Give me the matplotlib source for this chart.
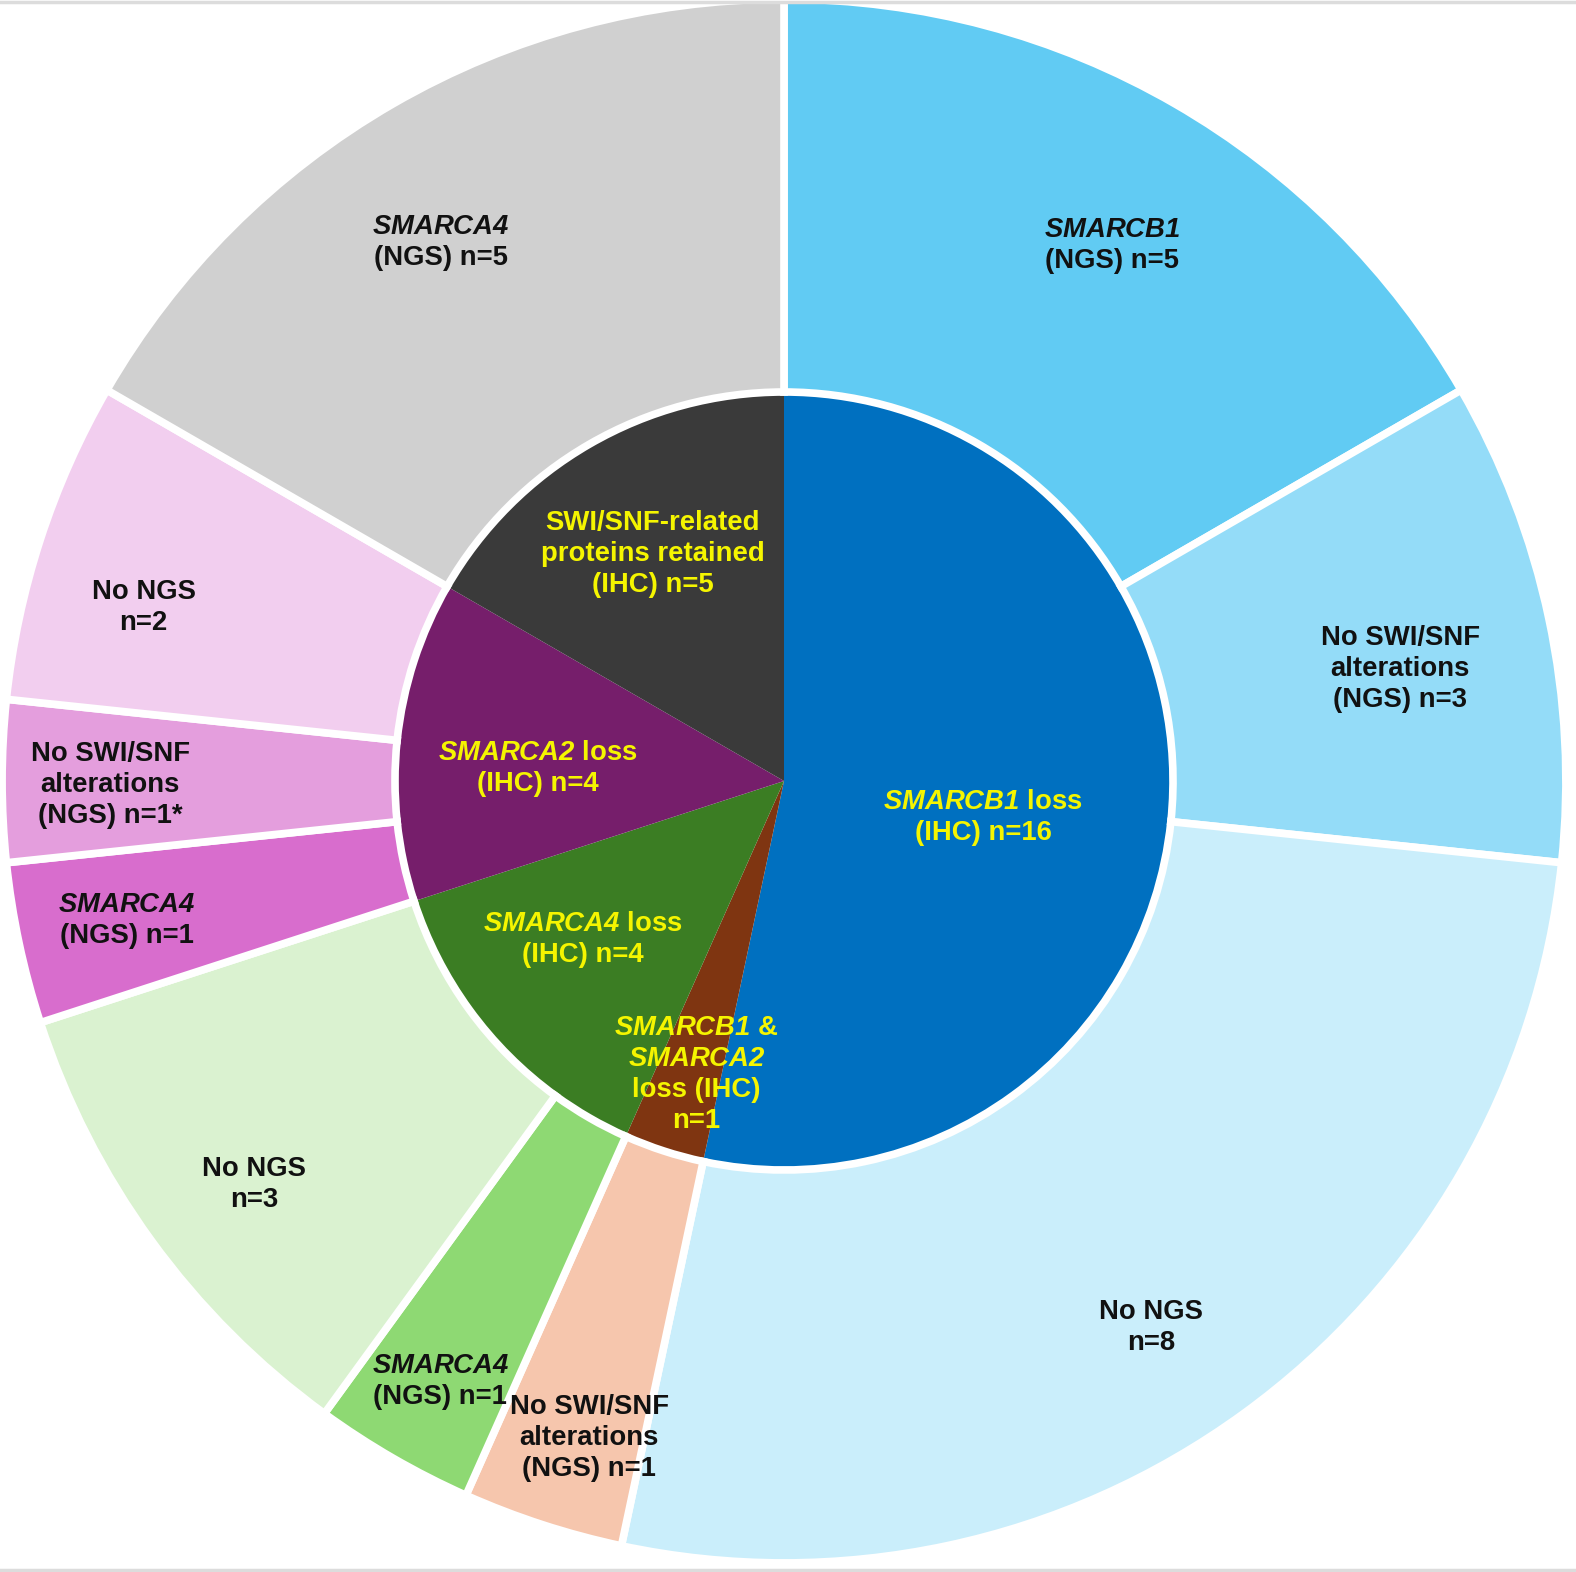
import numpy as np
import matplotlib
matplotlib.use("Agg")
import matplotlib.pyplot as plt
from matplotlib.lines import Line2D

plt.rcParams['font.family'] = ['Liberation Sans', 'DejaVu Sans']
plt.rcParams['font.weight'] = 'bold'
plt.rcParams['mathtext.fontset'] = 'custom'
# gene names are bold italic, digits too
plt.rcParams['mathtext.it'] = 'Liberation Sans:italic:bold'
plt.rcParams['mathtext.rm'] = 'Liberation Sans:italic:bold'
plt.rcParams['mathtext.bf'] = 'Liberation Sans:italic:bold'

# inner ring: IHC result
inner_labels = [r"$\mathit{SMARCB1}$ loss" + "\n(IHC) n=16",
                r"$\mathit{SMARCB1}$ &" + "\n" + r"$\mathit{SMARCA2}$" + "\nloss (IHC)\nn=1",
                r"$\mathit{SMARCA4}$ loss" + "\n(IHC) n=4",
                r"$\mathit{SMARCA2}$ loss" + "\n(IHC) n=4",
                "SWI/SNF-related\nproteins retained\n(IHC) n=5"]
inner_counts = [16, 1, 4, 4, 5]

# outer ring: NGS result
outer_labels = [r"$\mathit{SMARCB1}$" + "\n(NGS) n=5",
                "No SWI/SNF\nalterations\n(NGS) n=3",
                "No NGS\nn=8",
                "No SWI/SNF\nalterations\n(NGS) n=1",
                r"$\mathit{SMARCA4}$" + "\n(NGS) n=1",
                "No NGS\nn=3",
                r"$\mathit{SMARCA4}$" + "\n(NGS) n=1",
                "No SWI/SNF\nalterations\n(NGS) n=1*",
                "No NGS\nn=2",
                r"$\mathit{SMARCA4}$" + "\n(NGS) n=5"]
outer_counts = [5, 3, 8, 1, 1, 3, 1, 1, 2, 5]

inner_colors = ['#0070C0', '#7F3511', '#3B7D23', '#761E6B', '#3A3A3A']
outer_colors = ['#61CBF3', '#94DCF8', '#CAEEFB', '#F6C6AD', '#8ED973',
                '#DAF2D0', '#D86DCD', '#E49EDD', '#F2CEEF', '#D0D0D0']

# label placement: radius and small angle nudge from the slice middle
inner_label_r = [0.26, 0.393, 0.329, 0.317, 0.337]
inner_label_da = [4.3, -1.4, 3.7, -3.2, 0.0]
outer_label_r = [0.807, 0.805, 0.846, 0.881, 0.889, 0.856, 0.864, 0.866, 0.853, 0.821]
outer_label_da = [1.5, 1.7, 2.1, -1.5, -0.2, -1.3, 0.0, -0.3, -2.8, -2.5]

W, H = 1576, 1572
cx, cy, R = 784, 781, 778

fig = plt.figure(figsize=(W / 100, H / 100), dpi=100)
ax = fig.add_axes([0, 0, 1, 1])
ax.axis('off')

ax.pie(inner_counts, radius=0.5, colors=inner_colors, startangle=90,
       counterclock=False, wedgeprops=dict(linewidth=0))
ax.pie(outer_counts, radius=1.005, colors=outer_colors, startangle=90,
       counterclock=False,
       wedgeprops=dict(width=0.505, edgecolor='white', linewidth=5.5))
ax.set_xlim(-cx / R, (W - cx) / R)
ax.set_ylim(-(H - cy) / R, cy / R)
ax.set_aspect('auto')


def mid_angles(counts):
    c = np.cumsum([0] + list(counts))
    total = c[-1]
    return [(c[i] + c[i + 1]) / 2 / total * 360 for i in range(len(counts))]


for lab, a, r, da in zip(inner_labels, mid_angles(inner_counts),
                         inner_label_r, inner_label_da):
    t = np.deg2rad(a + da)
    ax.text(r * np.sin(t), r * np.cos(t), lab, ha='center', va='center',
            multialignment='center', color='#F5F500', fontsize=19.8,
            fontweight='bold', linespacing=1.25)

for lab, a, r, da in zip(outer_labels, mid_angles(outer_counts),
                         outer_label_r, outer_label_da):
    t = np.deg2rad(a + da)
    ax.text(r * np.sin(t), r * np.cos(t), lab, ha='center', va='center',
            multialignment='center', color='#111111', fontsize=19.8,
            fontweight='bold', linespacing=1.25)

# thin grey rules at top and bottom edge
fig.add_artist(Line2D([0, 1], [0.999, 0.999], color='#DCDCDC', lw=2.5))
fig.add_artist(Line2D([0, 1], [0.001, 0.001], color='#DCDCDC', lw=2.5))

fig.savefig('out.png', dpi=100, facecolor='white')
